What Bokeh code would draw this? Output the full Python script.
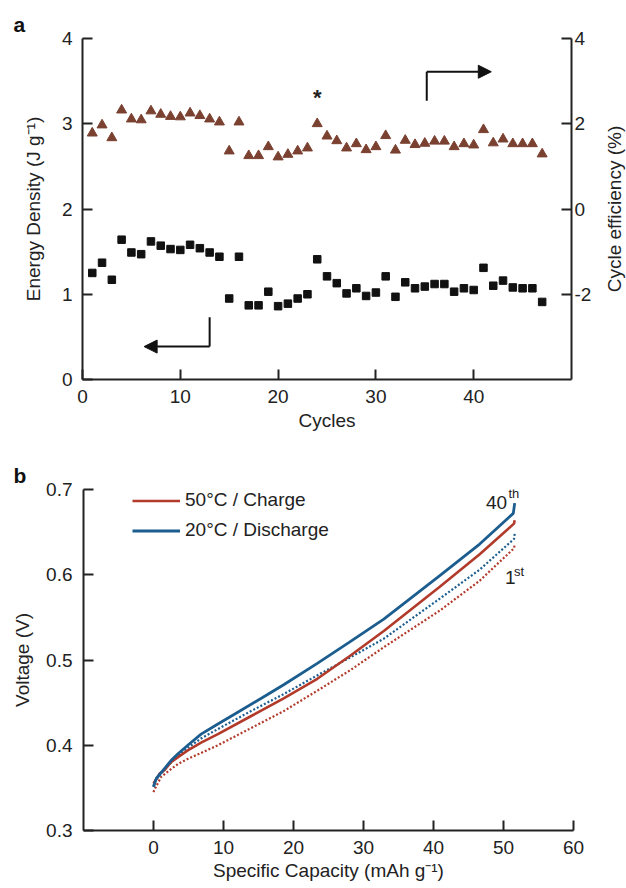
import math
from bokeh.plotting import figure
from bokeh.models import (Range1d, LinearAxis, FixedTicker, Label, Arrow, NormalHead,
                          Legend, LegendItem, Title)
from bokeh.layouts import column, row
from bokeh.embed import file_html
from bokeh.resources import INLINE

# ---------------- data: panel a ----------------
cycles = list(range(1, 48))
energy_density = [1.25, 1.37, 1.17, 1.64, 1.49, 1.47, 1.62, 1.57, 1.53, 1.52,
                  1.58, 1.54, 1.49, 1.44, 0.95, 1.44, 0.87, 0.87, 1.03, 0.86,
                  0.89, 0.95, 1.00, 1.41, 1.21, 1.13, 1.01, 1.07, 0.98, 1.02,
                  1.21, 0.97, 1.14, 1.07, 1.09, 1.12, 1.12, 1.03, 1.07, 1.05,
                  1.31, 1.10, 1.16, 1.08, 1.07, 1.07, 0.91]
cycle_efficiency = [1.78, 1.97, 1.67, 2.32, 2.11, 2.09, 2.30, 2.22, 2.17, 2.16,
                    2.25, 2.19, 2.11, 2.04, 1.36, 2.04, 1.25, 1.25, 1.46, 1.22,
                    1.28, 1.36, 1.43, 2.00, 1.71, 1.60, 1.43, 1.53, 1.39, 1.46,
                    1.72, 1.38, 1.61, 1.51, 1.54, 1.59, 1.59, 1.46, 1.53, 1.50,
                    1.86, 1.55, 1.64, 1.53, 1.53, 1.53, 1.29]
cycle_ticks = [0, 10, 20, 30, 40]
energy_ticks = [0, 1, 2, 3, 4]
eff_ticks = [-2, 0, 2, 4]
star_cycle = 24

# ---------------- data: panel b ----------------
cap_dis_40 = [0, 0.4, 1.6, 2.5, 3.5, 4.9, 6.8, 9.2, 11.5, 16, 18.6, 23.4, 28, 32.9, 40.9, 46.6, 51.4, 51.6]
v_dis_40 = [0.351, 0.361, 0.373, 0.382, 0.390, 0.400, 0.413, 0.425, 0.436, 0.458, 0.471, 0.496,
            0.521, 0.548, 0.599, 0.636, 0.672, 0.684]
cap_chg_40 = [0, 0.9, 1.6, 2.5, 3.5, 4.9, 6.8, 9.2, 13.9, 18.6, 23.4, 28.1, 32.9, 40.9, 46.6, 51.5, 51.6]
v_chg_40 = [0.355, 0.367, 0.371, 0.380, 0.386, 0.394, 0.403, 0.413, 0.434, 0.455, 0.478, 0.505,
            0.534, 0.586, 0.624, 0.660, 0.664]
cap_dis_1 = [0, 0.2, 1.6, 3.5, 4.9, 6.8, 9.2, 13.9, 18.6, 23.4, 28.1, 32.9, 40.9, 46.6, 51.5, 51.6]
v_dis_1 = [0.352, 0.358, 0.372, 0.388, 0.397, 0.408, 0.419, 0.440, 0.460, 0.482, 0.503, 0.525,
           0.572, 0.606, 0.642, 0.648]
cap_chg_1 = [0, 0.2, 1.1, 2.5, 3.5, 4.9, 6.8, 9.2, 13.9, 18.6, 23.4, 28.1, 32.9, 40.9, 46.6, 51.5, 51.6]
v_chg_1 = [0.345, 0.349, 0.363, 0.372, 0.378, 0.384, 0.391, 0.400, 0.420, 0.440, 0.464, 0.488,
           0.515, 0.558, 0.593, 0.631, 0.636]
capacity_ticks = [0, 10, 20, 30, 40, 50, 60]
voltage_ticks = [0.3, 0.4, 0.5, 0.6, 0.7]

FONT = "Liberation Sans"
TICK_FS = "19px"
LABEL_FS = "19px"
AX_COLOR = "#222222"
BROWN = "#7a4131"
RED = "#b23a2a"
BLUE = "#1b5d8f"


def style_axis(ax, tick_standoff=9, label_standoff=12):
    ax.axis_line_width = 2
    ax.axis_line_color = AX_COLOR
    ax.major_tick_line_width = 2
    ax.major_tick_line_color = AX_COLOR
    ax.major_tick_in = 10
    ax.major_tick_out = 0
    ax.minor_tick_line_color = None
    ax.major_label_text_font = FONT
    ax.major_label_text_font_size = TICK_FS
    ax.major_label_text_color = "#222222"
    ax.major_label_standoff = tick_standoff
    ax.axis_label_text_font = FONT
    ax.axis_label_text_font_size = LABEL_FS
    ax.axis_label_text_font_style = "normal"
    ax.axis_label_text_color = "#222222"
    ax.axis_label_standoff = label_standoff


def panel_letter(text, offset):
    return Title(text=text, align="left", offset=offset, standoff=5,
                 text_font=FONT, text_font_size="21px", text_font_style="bold",
                 text_color="#111111")


# ================= panel a =================
p1 = figure(width=600, height=440, x_range=Range1d(0, 50), y_range=Range1d(0, 4),
            output_backend="svg", toolbar_location=None, title=panel_letter("a", -69),
            min_border_left=82, min_border_right=29, min_border_top=38, min_border_bottom=61)
p1.outline_line_color = None
p1.grid.visible = False
p1.extra_y_ranges = {"eff": Range1d(-4, 4)}

p1.xaxis.ticker = FixedTicker(ticks=cycle_ticks)
p1.xaxis.axis_label = "Cycles"
p1.yaxis.ticker = FixedTicker(ticks=energy_ticks)
p1.yaxis.axis_label = "Energy Density (J g\u207b\u00b9)"
style_axis(p1.xaxis[0], tick_standoff=10, label_standoff=4)
style_axis(p1.yaxis[0], tick_standoff=10, label_standoff=15)

right_ax = LinearAxis(y_range_name="eff", ticker=FixedTicker(ticks=eff_ticks))
style_axis(right_ax, tick_standoff=3, label_standoff=0)
right_ax.major_label_overrides = {-2: "-2"}
p1.add_layout(right_ax, "right")

p1.scatter(cycles, energy_density, marker="square", size=7.5,
           fill_color="#111111", line_color="#111111")
p1.scatter(cycles, cycle_efficiency, marker="triangle", size=10,
           fill_color=BROWN, line_color=BROWN, y_range_name="eff")

star_y = (cycle_efficiency[star_cycle - 1] + 4) / 2 + 0.31
p1.add_layout(Label(x=star_cycle, y=star_y, text="*", text_align="center",
                    text_baseline="middle", text_font=FONT, text_font_size="22px",
                    text_font_style="bold", text_color="#222222"))

# arrows (annotation positions)
p1.add_layout(Arrow(end=None, x_start=13, y_start=0.73, x_end=13, y_end=0.386,
                    line_width=2, line_color="#111111"))
p1.add_layout(Arrow(end=NormalHead(size=13, fill_color="#111111", line_color="#111111"),
                    x_start=13, y_start=0.386, x_end=6.3, y_end=0.386,
                    line_width=2, line_color="#111111"))
p1.add_layout(Arrow(end=None, x_start=35.2, y_start=3.27, x_end=35.2, y_end=3.61,
                    line_width=2, line_color="#111111"))
p1.add_layout(Arrow(end=NormalHead(size=13, fill_color="#111111", line_color="#111111"),
                    x_start=35.2, y_start=3.61, x_end=41.8, y_end=3.61,
                    line_width=2, line_color="#111111"))

# narrow strip carrying the right-hand axis title (reads bottom-to-top)
pR = figure(width=26, height=440, x_range=Range1d(0, 1), y_range=Range1d(-4, 4),
            output_backend="svg", toolbar_location=None,
            min_border_left=22, min_border_right=0, min_border_top=38, min_border_bottom=61)
pR.outline_line_color = None
pR.grid.visible = False
pR.xaxis.visible = False
pR.yaxis.ticker = FixedTicker(ticks=[])
pR.yaxis.axis_label = "Cycle efficiency (%)"
style_axis(pR.yaxis[0], tick_standoff=0, label_standoff=0)
pR.yaxis.axis_line_color = None
pR.yaxis.major_tick_line_color = None
pR.yaxis.major_tick_in = 0

# ================= panel b =================
p2 = figure(width=626, height=448, x_range=Range1d(-10, 60), y_range=Range1d(0.3, 0.7),
            output_backend="svg", toolbar_location=None, title=panel_letter("b", -70),
            min_border_left=83, min_border_right=53, min_border_top=49, min_border_bottom=58)
p2.outline_line_color = None
p2.grid.visible = False
p2.xaxis.ticker = FixedTicker(ticks=capacity_ticks)
p2.xaxis.axis_label = "Specific Capacity (mAh g\u207b\u00b9)"
p2.yaxis.ticker = FixedTicker(ticks=voltage_ticks)
p2.yaxis.axis_label = "Voltage (V)"
style_axis(p2.xaxis[0], tick_standoff=10, label_standoff=3)
style_axis(p2.yaxis[0], tick_standoff=11, label_standoff=10)

r_chg1 = p2.line(cap_chg_1, v_chg_1, line_color=RED, line_width=2.2, line_dash="2 2")
r_dis1 = p2.line(cap_dis_1, v_dis_1, line_color=BLUE, line_width=2.2, line_dash="2 2")
r_chg40 = p2.line(cap_chg_40, v_chg_40, line_color=RED, line_width=2.6)
r_dis40 = p2.line(cap_dis_40, v_dis_40, line_color=BLUE, line_width=2.8)

legend = Legend(items=[LegendItem(label="50\u00b0C / Charge", renderers=[r_chg40]),
                       LegendItem(label="20\u00b0C / Discharge", renderers=[r_dis40])],
                location=(49, 289))
legend.glyph_width = 48
legend.glyph_height = 21
legend.spacing = 8
legend.padding = 0
legend.margin = 0
legend.label_standoff = 5
legend.label_text_font = FONT
legend.label_text_font_size = "19px"
legend.label_text_color = "#222222"
legend.border_line_color = None
legend.background_fill_alpha = 0
p2.add_layout(legend)

p2.add_layout(Label(x=47.5, y=0.685, text="40", text_font=FONT, text_font_size="19px",
                    text_baseline="alphabetic", text_color="#222222"))
p2.add_layout(Label(x=50.7, y=0.6955, text="th", text_font=FONT, text_font_size="13px",
                    text_baseline="alphabetic", text_color="#222222"))
p2.add_layout(Label(x=50.2, y=0.597, text="1", text_font=FONT, text_font_size="19px",
                    text_baseline="alphabetic", text_color="#222222"))
p2.add_layout(Label(x=51.5, y=0.604, text="st", text_font=FONT, text_font_size="13px",
                    text_baseline="alphabetic", text_color="#222222"))

layout = column(row(p1, pR, spacing=0), p2, spacing=0)
open("out.html", "w").write(file_html(layout, INLINE))
